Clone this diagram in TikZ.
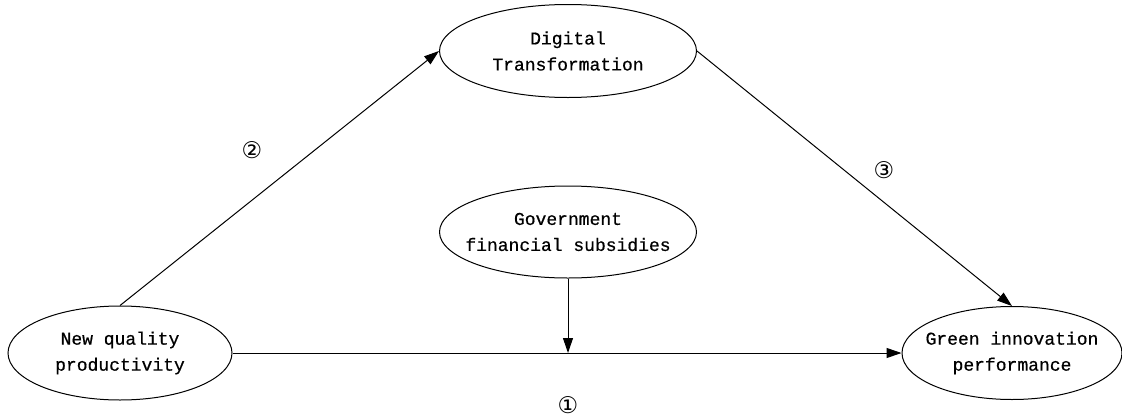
\documentclass[tikz,border=0pt]{standalone}
\usepackage{fontspec}
\newfontfamily\varfont{Liberation Mono}[FakeBold=0.6]
\newfontfamily\circfont{DejaVu Sans}
\usepackage{tikz}
\usetikzlibrary{shapes,arrows,arrows.meta,positioning}

\begin{document}
\begin{tikzpicture}[x=1pt, y=-1pt, thick, line width=1pt]
\tikzstyle{var} = [ellipse, draw, line width=1pt, inner xsep=-30pt, inner ysep=0pt, align=center, font=\varfont\fontsize{18}{26}\selectfont]
\tikzstyle{arrow} = [line width=1pt, -{Triangle[length=15,width=10]}]
\tikzstyle{tag} = [font=\circfont\fontsize{23}{26}\selectfont]

\useasboundingbox (0,0) rectangle (1122,418);

\node [var, minimum width=257, minimum height=93] (digital) at (568,51) {Digital\\Transformation};
\node [var, minimum width=257, minimum height=92] (subsidy) at (568,232) {Government\\financial subsidies};
\node [var, minimum width=224, minimum height=94] (nqp) at (120,353) {New quality\\productivity};
\node [var, minimum width=220, minimum height=93] (green) at (1012,353) {Green innovation\\performance};
\coordinate (join) at (568,353);

\draw [arrow] (nqp.north) -- (digital.west);
\draw [arrow] (digital.east) -- (green.north);
\draw [arrow] (nqp.east) -- (green.west);
\draw [arrow] (subsidy.south) -- (join);

\node [tag] (p2) at (252,150) {②};
\node [tag] (p3) at (884,170) {③};
\node [tag] (p1) at (568,405) {①};

\end{tikzpicture}
\end{document}
